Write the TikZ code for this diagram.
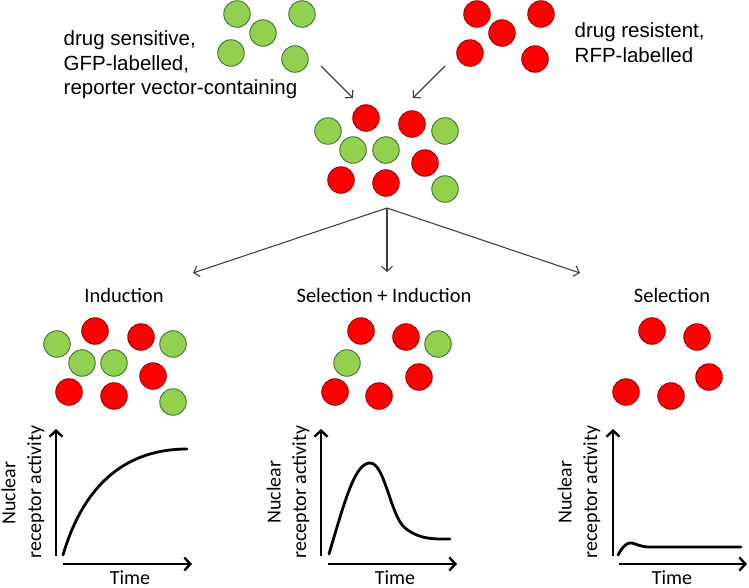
\documentclass[tikz,border=0pt]{standalone}
\usepackage{fontspec}
\setmainfont{Carlito}
\newfontfamily\arialfont{Liberation Sans}
\usetikzlibrary{arrows.meta}
\definecolor{cgreen}{HTML}{92D050}
\definecolor{cgreenb}{HTML}{41702A}
\definecolor{cred}{HTML}{FF0000}
\definecolor{credb}{HTML}{A00000}
\tikzset{
  gcell/.style={circle,draw=cgreenb,fill=cgreen,line width=0.9pt,minimum size=26.5pt,inner sep=0pt},
  rcell/.style={circle,draw=credb,fill=cred,line width=0.9pt,minimum size=26.5pt,inner sep=0pt},
  flow/.style={draw=black!75,line width=1.1pt,-{Straight Barb[length=5pt,width=11pt,line width=1.1pt]}},
  axisline/.style={line width=2.8pt,-{Straight Barb[length=6pt,width=13pt,line width=2.4pt]}},
  curveline/.style={line width=2.8pt,line cap=round},
  titletext/.style={font=\fontsize{20.5}{24}\selectfont,anchor=base,inner sep=0pt},
  axlabel/.style={font=\fontsize{20}{24}\selectfont,rotate=90,anchor=base,inner sep=0pt},
  timetext/.style={font=\fontsize{20}{24}\selectfont,anchor=base,inner sep=0pt},
  celltext/.style={font=\arialfont\fontsize{20.5}{24.4}\selectfont,align=left,anchor=base west,inner sep=0pt}
}
\begin{document}
\begin{tikzpicture}[x=1pt,y=-1pt]
\path[use as bounding box] (0,0) rectangle (749,587);

% top labels (anchored at the baseline of the last line)
\node[celltext] (lsens) at (63.5,94.5) {drug sensitive,\\GFP-labelled,\\reporter vector-containing};
\node[celltext] (lres) at (574.5,62) {drug resistent,\\RFP-labelled};

% top green group
\node[gcell] (g1) at (237,14) {};
\node[gcell] (g2) at (302,14) {};
\node[gcell] (g3) at (263,33) {};
\node[gcell] (g4) at (231,53) {};
\node[gcell] (g5) at (295,59) {};
% top red group
\node[rcell] (r1) at (477,14) {};
\node[rcell] (r2) at (541,14) {};
\node[rcell] (r3) at (502,33) {};
\node[rcell] (r4) at (470,53) {};
\node[rcell] (r5) at (535,59) {};

% mixed group
\node[gcell] (m1) at (328,131) {};
\node[rcell] (m2) at (366,118) {};
\node[rcell] (m3) at (412,124) {};
\node[gcell] (m4) at (445,131) {};
\node[gcell] (m5) at (353,150) {};
\node[gcell] (m6) at (386,150) {};
\node[rcell] (m7) at (425,163) {};
\node[rcell] (m8) at (341,180) {};
\node[rcell] (m9) at (386,183) {};
\node[gcell] (m10) at (445,189) {};

% arrows into mixed group
\coordinate (a1s) at (321,66);
\coordinate (a1e) at (353,98);
\coordinate (a2s) at (445,66);
\coordinate (a2e) at (413,98);
\draw[flow] (a1s) -- (a1e);
\draw[flow] (a2s) -- (a2e);

% branching arrows
\coordinate (br) at (387,208);
\coordinate (b1) at (193,273);
\coordinate (b2) at (387,272);
\coordinate (b3) at (580,273);
\draw[flow] (br) -- (b1);
\draw[flow] (br) -- (b2);
\draw[flow] (br) -- (b3);

% titles
\node[titletext] (tind) at (124,302) {Induction};
\node[titletext] (tsi) at (384,302) {Selection + Induction};
\node[titletext] (tsel) at (672,302) {Selection};

% induction group
\node[gcell] (i1) at (57,344) {};
\node[rcell] (i2) at (95,331) {};
\node[rcell] (i3) at (141,337) {};
\node[gcell] (i4) at (173,344) {};
\node[gcell] (i5) at (82,363) {};
\node[gcell] (i6) at (114,363) {};
\node[rcell] (i7) at (153,376) {};
\node[rcell] (i8) at (69,392) {};
\node[rcell] (i9) at (114,396) {};
\node[gcell] (i10) at (173,402) {};

% selection + induction group
\node[rcell] (s1) at (361,331) {};
\node[rcell] (s2) at (406,337) {};
\node[gcell] (s3) at (438,344) {};
\node[gcell] (s4) at (347,363) {};
\node[rcell] (s5) at (419,377) {};
\node[rcell] (s6) at (335,392) {};
\node[rcell] (s7) at (379,396) {};

% selection group
\node[rcell] (t1) at (652,331) {};
\node[rcell] (t2) at (697,337) {};
\node[rcell] (t3) at (709,377) {};
\node[rcell] (t4) at (626,392) {};
\node[rcell] (t5) at (671,396) {};

% graph 1
\coordinate (y1a) at (56,556);
\coordinate (y1b) at (56,429);
\coordinate (x1a) at (63,564);
\coordinate (x1b) at (192,564);
\draw[axisline] (y1a) -- (y1b);
\draw[axisline] (x1a) -- (x1b);
\draw[curveline] (63,555) .. controls (85,480) and (130,449) .. (187,449);
\node[axlabel] (n1) at (15.5,493) {Nuclear};
\node[axlabel] (rc1) at (41,492) {receptor activity};
\node[timetext] (time1) at (130,584) {Time};

% graph 2
\coordinate (y2a) at (321,556);
\coordinate (y2b) at (321,429);
\coordinate (x2a) at (328,564);
\coordinate (x2b) at (457,564);
\draw[axisline] (y2a) -- (y2b);
\draw[axisline] (x2a) -- (x2b);
\draw[curveline] (329,554) .. controls (345,500) and (355,463) .. (370,463)
  .. controls (385,463) and (390,515) .. (405,528)
  .. controls (420,540) and (435,539) .. (450,539);
\node[axlabel] (n2) at (280.5,492) {Nuclear};
\node[axlabel] (rc2) at (306,492) {receptor activity};
\node[timetext] (time2) at (395,584) {Time};

% graph 3
\coordinate (y3a) at (613,556);
\coordinate (y3b) at (613,429);
\coordinate (x3a) at (619,564);
\coordinate (x3b) at (747,564);
\draw[axisline] (y3a) -- (y3b);
\draw[axisline] (x3a) -- (x3b);
\draw[curveline] (618,555) .. controls (623,546) and (627,542) .. (632,543)
  .. controls (637,544) and (640,547) .. (650,547) -- (741,547);
\node[axlabel] (n3) at (571.5,492) {Nuclear};
\node[axlabel] (rc3) at (597,492) {receptor activity};
\node[timetext] (time3) at (672,584) {Time};
\end{tikzpicture}
\end{document}
